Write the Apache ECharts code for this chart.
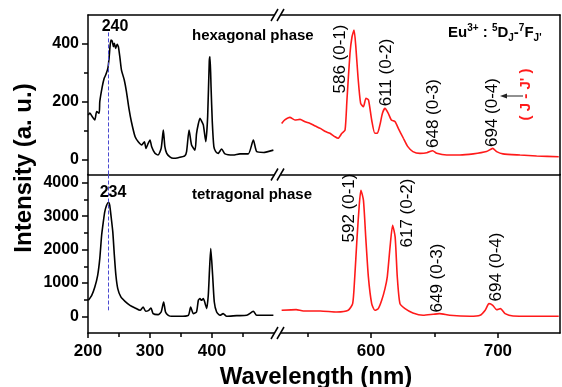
<!DOCTYPE html>
<html>
<head>
<meta charset="utf-8">
<script src="https://cdn.jsdelivr.net/npm/echarts@6/dist/echarts.min.js"></script>
<style>
  html, body { margin: 0; padding: 0; background: #fff; }
  #chart { width: 562px; height: 387px; }
</style>
</head>
<body>
<div id="chart"></div>
<script>
// excitation, hexagonal phase (black, top left)
const hexX = [200.5, 203, 207, 211, 214, 218, 219, 223, 226, 228.5, 232, 234, 235.5, 237, 239, 241, 242.5, 244.6, 247, 249, 251.6, 254, 258.5, 262, 266, 270, 276, 281, 286.6, 291, 293.5, 297, 300, 302.7, 308, 313, 318, 321.5, 324, 327, 332, 337.6, 345.6, 356, 359, 363, 367, 372.6, 375, 378, 380.6, 383, 386, 390, 393, 395.6, 396.8, 398.5, 400.5, 403, 406, 410, 415.6, 421, 434, 445, 458.5, 466.7, 472, 483, 499];
const hexY = [155, 162, 149, 138, 167, 161, 201, 253, 281, 293, 316, 351, 391, 414, 410, 391, 402, 385, 399, 391, 351, 310, 276, 236, 178, 132, 80, 63, 52, 63, 40, 57, 69, 46, 23, 17, 40, 103, 46, 23, 11, 6, 8, 14, 29, 103, 52, 34, 90, 125, 144, 135, 121, 63, 150, 340, 356, 250, 130, 46, 29, 23, 38, 21, 17, 21, 21, 69, 29, 26, 34];

// excitation, tetragonal phase (black, bottom left)
const tetX = [200.5, 206, 211, 215.6, 219, 222, 224.7, 227, 230, 233, 235, 237, 240, 242.5, 245, 248, 253, 259.7, 267.7, 276, 284, 289, 293, 298, 301.6, 305, 313, 318, 322, 325, 329.5, 335, 348, 361.8, 365.6, 369.8, 375, 378, 380.6, 383, 386, 389, 391.4, 394, 396, 398, 401, 403.7, 407.5, 413, 418, 423.7, 440, 456, 466.7, 472, 499];
const tetY = [480, 630, 880, 1230, 1730, 2430, 2830, 3130, 3330, 3420, 3330, 3030, 2530, 1830, 1230, 830, 580, 450, 330, 250, 180, 280, 150, 180, 250, 80, 50, 130, 430, 130, 30, 0, 0, 30, 280, 80, 130, 480, 530, 480, 530, 380, 230, 630, 1400, 2030, 1230, 430, 130, 30, 80, 0, 20, 30, 150, 30, 30];

// emission, hexagonal phase (red, top right)
const emHexX = [529.5, 532, 536, 540, 544, 548, 552, 556, 560, 564, 567.6, 571.6, 574, 577, 579.5, 581, 583.4, 585, 586.6, 588, 589.7, 591.8, 594, 596, 598, 600.5, 603, 605, 607, 609, 611, 613.6, 616, 619, 621.5, 625.5, 629, 633, 638.6, 644, 648.6, 651.8, 659.7, 670, 680.6, 691, 696, 699, 704, 717.5, 730.6, 748];
const emHexY = [126, 138, 147, 138, 140, 132, 126, 117, 109, 98, 92, 80, 75, 92, 103, 207, 368, 425, 448, 391, 287, 195, 184, 213, 207, 138, 92, 92, 121, 161, 178, 161, 138, 132, 109, 75, 46, 29, 23, 25, 32, 23, 17, 17, 21, 29, 40, 29, 21, 17, 14, 11];

// emission, tetragonal phase (red, bottom right)
const emTetX = [529.5, 541, 546.6, 560, 573, 582, 585.5, 587, 589, 590.8, 592, 594, 595.8, 597.9, 600.5, 603, 605.7, 608.4, 611, 612.8, 615, 617, 619, 620.7, 622.8, 626.8, 633, 641, 649, 654, 662, 678, 686, 690, 693, 696, 699, 702, 705.7, 712, 748];
const emTetY = [180, 200, 160, 160, 130, 180, 380, 1080, 2380, 3380, 3780, 3480, 2380, 1180, 380, 180, 230, 480, 830, 1180, 2080, 2730, 2380, 1180, 380, 230, 100, 30, 60, 80, 30, 0, 30, 180, 380, 330, 200, 230, 80, 10, 0];

const xLabelsLeft = [200, 300, 400];
const xMinorLeft = [250, 350, 450];
const xLabelsRight = [600, 700];
const xMinorRight = [550, 650];
const yLabelsTop = [0, 200, 400];
const yMinorTop = [100, 300];
const yLabelsBottom = [0, 1000, 2000, 3000, 4000];
const yMinorBottom = [500, 1500, 2500, 3500];

const peakLabelsTop = ['586 (0-1)', '611 (0-2)', '648 (0-3)', '694 (0-4)'];
const peakLabelsBottom = ['592 (0-1)', '617 (0-2)', '649 (0-3)', '694 (0-4)'];

const FONT = 'Liberation Sans, Arial, sans-serif';
const pairs = (xs, ys) => xs.map((x, i) => [x, ys[i]]);

const chart = echarts.init(document.getElementById('chart'));

const lineAxis = {show: true, onZero: false, lineStyle: {color: '#000', width: 1.5}};
const noTick = {show: false};
const noLabel = {show: false};

function xAx(grid, min, max, pos, extra) {
  return Object.assign({
    type: 'value', gridIndex: grid, min: min, max: max, position: pos,
    axisLine: lineAxis, axisTick: noTick, axisLabel: noLabel, splitLine: {show: false}
  }, extra || {});
}
function yAx(grid, min, max, pos, extra) {
  return Object.assign({
    type: 'value', gridIndex: grid, min: min, max: max, position: pos,
    axisLine: lineAxis, axisTick: noTick, axisLabel: noLabel, splitLine: {show: false}
  }, extra || {});
}

const plain = v => String(v);
const xLabelStyle = {show: true, fontSize: 17, fontWeight: 'bold', color: '#000', fontFamily: FONT, margin: 10, formatter: plain};
const yLabelStyle = {show: true, fontSize: 16, fontWeight: 'bold', color: '#000', fontFamily: FONT, margin: 9, formatter: plain};

const xAxes = [
  xAx(0, 200, 500, 'bottom'),
  xAx(1, 529, 749, 'bottom'),
  xAx(2, 200, 500, 'bottom', {
    axisTick: {show: true, length: 5, customValues: xLabelsLeft, lineStyle: {width: 1.5, color: '#000'}},
    axisLabel: Object.assign({customValues: xLabelsLeft}, xLabelStyle)
  }),
  xAx(3, 529, 749, 'bottom', {
    axisTick: {show: true, length: 5, customValues: xLabelsRight, lineStyle: {width: 1.5, color: '#000'}},
    axisLabel: Object.assign({customValues: xLabelsRight}, xLabelStyle)
  }),
  xAx(2, 200, 500, 'bottom', {
    axisLine: {show: false, onZero: false},
    axisTick: {show: true, length: 4, customValues: xMinorLeft, lineStyle: {width: 1.5, color: '#000'}}
  }),
  xAx(3, 529, 749, 'bottom', {
    axisLine: {show: false, onZero: false},
    axisTick: {show: true, length: 4, customValues: xMinorRight, lineStyle: {width: 1.5, color: '#000'}}
  }),
  xAx(0, 200, 500, 'top'),
  xAx(1, 529, 749, 'top')
];

const yAxes = [
  yAx(0, -50, 500, 'left', {
    axisTick: {show: true, length: 6, customValues: yLabelsTop, lineStyle: {width: 1.5, color: '#000'}},
    axisLabel: Object.assign({customValues: yLabelsTop}, yLabelStyle)
  }),
  yAx(1, -50, 500, 'right'),
  yAx(2, -500, 4250, 'left', {
    axisTick: {show: true, length: 6, customValues: yLabelsBottom, lineStyle: {width: 1.5, color: '#000'}},
    axisLabel: Object.assign({customValues: yLabelsBottom}, yLabelStyle)
  }),
  yAx(3, -500, 4250, 'right'),
  yAx(0, -50, 500, 'left', {
    axisLine: {show: false, onZero: false},
    axisTick: {show: true, length: 4, customValues: yMinorTop, lineStyle: {width: 1.5, color: '#000'}}
  }),
  yAx(2, -500, 4250, 'left', {
    axisLine: {show: false, onZero: false},
    axisTick: {show: true, length: 4, customValues: yMinorBottom, lineStyle: {width: 1.5, color: '#000'}}
  })
];

function curve(xi, yi, data, color) {
  return {
    type: 'line', xAxisIndex: xi, yAxisIndex: yi, data: data,
    showSymbol: false, symbol: 'none', smooth: 0.2, z: 3,
    lineStyle: {color: color, width: 1.6}
  };
}

function dashed(xi, yi, from, to) {
  return {
    type: 'line', xAxisIndex: xi, yAxisIndex: yi, data: [], z: 6,
    markLine: {
      silent: true, symbol: 'none', animation: false,
      lineStyle: {color: '#4a4ad0', type: [4, 2], width: 1},
      label: {show: false},
      data: [[{coord: from}, {coord: to}]]
    }
  };
}

// break marks and annotations
const graphics = [];
[15, 174.5, 333].forEach(function (y) {
  graphics.push({type: 'rect', shape: {x: 275, y: y - 3, width: 5, height: 6}, style: {fill: '#fff'}, z: 50});
  graphics.push({type: 'line', shape: {x1: 271, y1: y + 6, x2: 278, y2: y - 6}, style: {stroke: '#000', lineWidth: 1.5}, z: 51});
  graphics.push({type: 'line', shape: {x1: 277, y1: y + 6, x2: 284, y2: y - 6}, style: {stroke: '#000', lineWidth: 1.5}, z: 51});
});

function txt(x, y, s, opt) {
  graphics.push({
    type: 'text', x: x, y: y, rotation: opt.rot || 0, z: 60,
    style: {
      text: s, fontFamily: FONT, fontSize: opt.size, fontWeight: opt.weight || 'normal',
      fill: opt.color || '#000', align: opt.align || 'center', verticalAlign: 'middle'
    }
  });
}

txt(115, 27, '240', {size: 16, weight: 'bold'});
txt(113, 193, '234', {size: 16, weight: 'bold'});
txt(192, 36, 'hexagonal phase', {size: 15, weight: 'bold', align: 'left'});
txt(192, 195, 'tetragonal phase', {size: 15, weight: 'bold', align: 'left'});

const topPos = [[340.5, 59], [386.5, 72.5], [433.5, 113.5], [492.5, 112.5]];
const botPos = [[349, 208], [407.5, 213], [437, 278], [496.5, 267]];
peakLabelsTop.forEach((s, i) => txt(topPos[i][0], topPos[i][1], s, {size: 17, rot: Math.PI / 2}));
peakLabelsBottom.forEach((s, i) => txt(botPos[i][0], botPos[i][1], s, {size: 17, rot: Math.PI / 2}));
txt(526, 94.5, '( J - J\' )', {size: 15, weight: 'bold', color: '#ff1a1a', rot: Math.PI / 2});

txt(24, 168, 'Intensity (a. u.)', {size: 24, weight: 'bold', rot: Math.PI / 2});
txt(316, 377, 'Wavelength (nm)', {size: 24, weight: 'bold'});

graphics.push({type: 'line', shape: {x1: 523, y1: 96, x2: 505, y2: 96}, style: {stroke: '#222', lineWidth: 1}, z: 60});
graphics.push({type: 'polygon', shape: {points: [[500, 96], [507, 93.5], [507, 98.5]]}, style: {fill: '#222'}, z: 60});

graphics.push({
  type: 'text', x: 448, y: 33, z: 60,
  style: {
    text: '{b|Eu}{sup|3+}{b| : }{sup|5}{b|D}{sub|J}{b|-}{sup|7}{b|F}{sub|J\'}',
    verticalAlign: 'middle', align: 'left',
    rich: {
      b: {fontFamily: FONT, fontSize: 15, fontWeight: 'bold', fill: '#000', lineHeight: 20},
      sup: {fontFamily: FONT, fontSize: 10, fontWeight: 'bold', fill: '#000', lineHeight: 10, verticalAlign: 'top'},
      sub: {fontFamily: FONT, fontSize: 10, fontWeight: 'bold', fill: '#000', lineHeight: 10, verticalAlign: 'bottom'}
    }
  }
});

chart.setOption({
  animation: false,
  backgroundColor: '#fff',
  grid: [
    {left: 88, top: 15, width: 186, height: 159.5},
    {left: 281, top: 15, width: 279, height: 159.5},
    {left: 88, top: 174.5, width: 186, height: 158.5},
    {left: 281, top: 174.5, width: 279, height: 158.5}
  ],
  xAxis: xAxes,
  yAxis: yAxes,
  series: [
    curve(0, 0, pairs(hexX, hexY), '#000'),
    curve(1, 1, pairs(emHexX, emHexY), '#ff1a1a'),
    curve(2, 2, pairs(tetX, tetY), '#000'),
    curve(3, 3, pairs(emTetX, emTetY), '#ff1a1a'),
    dashed(0, 0, [232, 440], [232, -50]),
    dashed(2, 2, [232, 4250], [232, 180])
  ],
  graphic: graphics
});

window.addEventListener('resize', function () {
  chart.resize();
});
</script>
</body>
</html>
